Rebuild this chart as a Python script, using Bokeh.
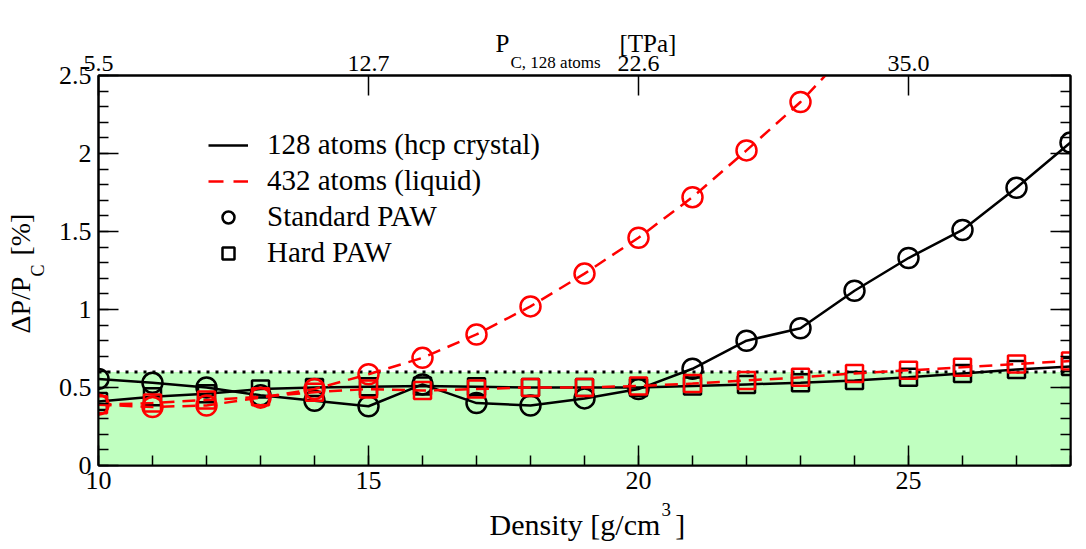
import math
from bokeh.plotting import figure
from bokeh.models import (LinearAxis, FixedTicker, Range1d, Legend, LegendItem, Label,
                          NumeralTickFormatter, CustomLabelingPolicy)
from bokeh.embed import file_html
from bokeh.resources import INLINE

# ---------------- data ----------------
density = [10, 11, 12, 13, 14, 15, 16, 17, 18, 19, 20, 21, 22, 23, 24, 25, 26, 27, 28]
std_128 = [0.555, 0.53, 0.50, 0.45, 0.415, 0.38, 0.52, 0.40, 0.385, 0.43, 0.49,
           0.62, 0.80, 0.88, 1.12, 1.33, 1.51, 1.78, 2.07]
hard_128 = [0.41, 0.44, 0.46, 0.49, 0.50, 0.505, 0.51, 0.505, 0.50, 0.50, 0.50,
            0.51, 0.52, 0.53, 0.545, 0.565, 0.59, 0.615, 0.635]
density_std_432 = [10, 11, 12, 13, 14, 15, 16, 17, 18, 19, 20, 21, 22, 23, 24]
std_432 = [0.39, 0.375, 0.385, 0.435, 0.49, 0.585, 0.69, 0.84, 1.02, 1.23, 1.46,
           1.72, 2.02, 2.33, 2.70]
hard_432 = [0.39, 0.40, 0.42, 0.44, 0.47, 0.49, 0.48, 0.49, 0.50, 0.50, 0.51,
            0.525, 0.545, 0.565, 0.59, 0.61, 0.63, 0.65, 0.67]
threshold = 0.6

x_major = [10, 15, 20, 25]
y_major = [0, 0.5, 1.0, 1.5, 2.0, 2.5]
y_minor = [i / 10 for i in range(26)]
top_tick_labels = ["5.5", "12.7", "22.6", "35.0"]

legend_labels = ["128 atoms (hcp crystal)", "432 atoms (liquid)", "Standard PAW", "Hard PAW"]

FONT = "Liberation Serif"
RED = "#ff0000"
GREEN = "#c0ffc0"
LW = 2.5
DASH = "13 8"
NAN = float("nan")
NBSP = "\u00a0"
EM = "\u2003"
EN = "\u2002"
THIN = "\u2009"

p = figure(width=1086, height=549, x_range=Range1d(10, 28), y_range=Range1d(0, 2.5),
           output_backend="svg", toolbar_location=None,
           min_border_left=98, min_border_right=8, min_border_top=75, min_border_bottom=84)
p.xgrid.visible = False
p.ygrid.visible = False
p.outline_line_color = "black"
p.outline_line_width = 2
p.background_fill_color = "white"
p.border_fill_color = "white"

# shaded region and dotted threshold
p.varea(x=[density[0], density[-1]], y1=[0, 0], y2=[threshold, threshold], fill_color=GREEN)
p.line([density[0], density[-1]], [threshold, threshold], line_color="black",
       line_width=3, line_dash="3 6")

# series
p.line(density, std_128, line_color="black", line_width=LW)
p.scatter(density, std_128, marker="circle", size=20, fill_color=None,
          line_color="black", line_width=LW)
p.line(density, hard_128, line_color="black", line_width=LW)
p.scatter(density, hard_128, marker="square", size=17, fill_color=None,
          line_color="black", line_width=LW)
p.line(density_std_432, std_432, line_color=RED, line_width=LW, line_dash=DASH)
p.scatter(density_std_432, std_432, marker="circle", size=20, fill_color=None,
          line_color=RED, line_width=LW)
p.line(density, hard_432, line_color=RED, line_width=LW, line_dash=DASH)
p.scatter(density, hard_432, marker="square", size=17, fill_color=None,
          line_color=RED, line_width=LW)

# axes
def style_axis(ax, size="26px"):
    ax.axis_line_width = 2
    ax.axis_line_color = "black"
    ax.major_tick_line_width = 1.5
    ax.minor_tick_line_width = 1.5
    ax.major_tick_in = 20
    ax.major_tick_out = 0
    ax.minor_tick_in = 10
    ax.minor_tick_out = 0
    ax.major_label_text_font = FONT
    ax.major_label_text_font_size = size
    ax.major_label_text_color = "black"

xax = p.xaxis[0]
xax.ticker = FixedTicker(ticks=x_major, minor_ticks=density)
style_axis(xax)
xax.major_label_standoff = 6

yax = p.yaxis[0]
yax.ticker = FixedTicker(ticks=y_major, minor_ticks=y_minor)
yax.formatter = NumeralTickFormatter(format="0.[0]")
style_axis(yax)
yax.major_label_standoff = 7

rax = LinearAxis(ticker=FixedTicker(ticks=y_major, minor_ticks=y_minor))
style_axis(rax, size="10px")
rax.major_label_standoff = 0
rax.major_label_policy = CustomLabelingPolicy(code="return []")
p.add_layout(rax, "right")

tax = LinearAxis(ticker=FixedTicker(ticks=x_major),
                 major_label_overrides={t: s for t, s in zip(x_major, top_tick_labels)})
style_axis(tax, size="24px")
tax.minor_tick_in = 0
tax.major_label_standoff = 5
p.add_layout(tax, "above")

# legend via proxy renderers (NaN data, not visible in the plot)
r1 = p.line([NAN], [NAN], line_color="black", line_width=LW)
r2 = p.line([NAN], [NAN], line_color=RED, line_width=LW, line_dash="15 10")
r3 = p.scatter([NAN], [NAN], marker="circle", size=14, fill_color=None, line_color="black", line_width=LW)
r4 = p.scatter([NAN], [NAN], marker="square", size=14, fill_color=None, line_color="black", line_width=LW)
legend = Legend(items=[LegendItem(label=legend_labels[0], renderers=[r1]),
                       LegendItem(label=legend_labels[1], renderers=[r2]),
                       LegendItem(label=legend_labels[2], renderers=[r3]),
                       LegendItem(label=legend_labels[3], renderers=[r4])],
                location=(110, 196), label_text_font=FONT, label_text_font_size="29px",
                label_text_color="black",
                label_standoff=19, glyph_width=40, glyph_height=30, label_height=30,
                spacing=3, padding=0, margin=0, background_fill_alpha=0,
                border_line_alpha=0)
p.add_layout(legend)

# axis titles as labels (with sub/superscripts), placed in side panels (not clipped)
def lab(side, text, x, y, size, angle=0):
    p.add_layout(Label(text=text, x=x, y=y, x_units="canvas", y_units="canvas",
                       text_font=FONT, text_font_size=size, text_color="black",
                       text_align="left", text_baseline="alphabetic", angle=angle), side)

# bottom: Density [g/cm^3]
lab("below", "Density [g/cm" + EN + "]", 489, 524, "30px")
lab("below", "3", 661, 509, "19px")

# top: P_{C, 128 atoms} [TPa]
lab("above", "P" + EM * 4 + THIN * 2 + "[TPa]", 495, 43, "25px")
lab("above", "C, 128 atoms", 510, 62, "17px")

# left: ΔP/P_C [%]
lab("left", "ΔP/P" + NBSP * 3 + "[%]", 20, 333, "28px", math.pi / 2)
lab("left", "C", 37, 276, "18px", math.pi / 2)

open("out.html", "w").write(file_html(p, INLINE))
